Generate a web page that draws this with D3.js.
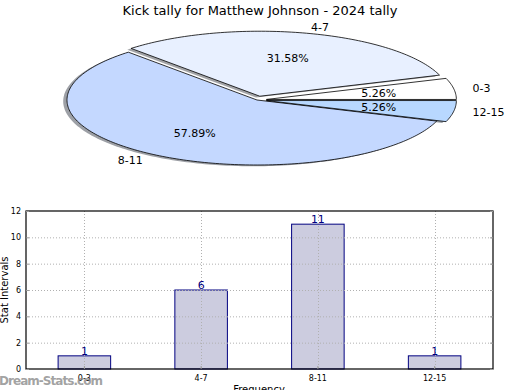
<!DOCTYPE html>
<html><head><meta charset="utf-8">
<script src="https://cdn.jsdelivr.net/npm/d3@7"></script>
<style>body{margin:0;background:#fff}svg{display:block;font-family:"DejaVu Sans",sans-serif}</style>
</head><body><svg id="c" width="520" height="390"></svg>
<script>
const title = "Kick tally for Matthew Johnson - 2024 tally";
const categories = ["0-3", "4-7", "8-11", "12-15"];
const counts = [1, 6, 11, 1];
const sliceColors = ["#ffffff", "#e8f0ff", "#c4d8ff", "#b8d8ff"];
const explode = [0.05, 0.06, 0, 0.05];
const yTicks = [0, 2, 4, 6, 8, 10, 12];
const yLabel = "Stat Intervals";
const xLabel = "Frequency";
const watermark = "Dream-Stats.com";

const svg = d3.select("#c");
svg.append("text").attr("x", 260).attr("y", 15).attr("text-anchor", "middle")
  .attr("font-size", 13).text(title);

// ---- Pie (elliptical, matplotlib-like: start at 0 rad, counter-clockwise) ----
const cx = 257, cy = 100, rx = 190, ry = 65;
const total = d3.sum(counts);
const pie = d3.pie().sort(null).value(d => d).startAngle(0).endAngle(2 * Math.PI);
const arcs = pie(counts);
function pt(a, r, ox, oy) { return [ox + rx * r * Math.cos(a), oy - ry * r * Math.sin(a)]; }
function slicePath(d, ox, oy) {
  const n = Math.max(4, Math.ceil((d.endAngle - d.startAngle) / 0.02));
  const angs = d3.range(n + 1).map(i => d.startAngle + (d.endAngle - d.startAngle) * i / n);
  const pts = [[ox, oy]].concat(angs.map(a => pt(a, 1, ox, oy)));
  return d3.line()(pts) + "Z";
}
const pg = svg.append("g");
const offs = arcs.map((d, i) => {
  const m = (d.startAngle + d.endAngle) / 2;
  return [cx + rx * explode[i] * Math.cos(m), cy - ry * explode[i] * Math.sin(m)];
});
// shadows (darkened face colour, half transparent)
arcs.forEach((d, i) => {
  const c = d3.rgb(sliceColors[i]);
  const sc = d3.rgb(c.r * 0.3, c.g * 0.3, c.b * 0.3);
  pg.append("path").attr("d", slicePath(d, offs[i][0] - 3.8, offs[i][1] + 1.3))
    .attr("fill", sc.formatHex()).attr("fill-opacity", 0.5).attr("stroke", "none");
});
arcs.forEach((d, i) => {
  pg.append("path").attr("d", slicePath(d, offs[i][0], offs[i][1]))
    .attr("fill", sliceColors[i]).attr("stroke", "#000").attr("stroke-width", 0.8)
    .attr("stroke-linejoin", "round");
});
arcs.forEach((d, i) => {
  const m = (d.startAngle + d.endAngle) / 2;
  const p = pt(m, 0.6, offs[i][0], offs[i][1]);
  const pctStr = (d.value / total * 100).toFixed(2) + "%";
  svg.append("text").attr("x", p[0]).attr("y", p[1] + 4).attr("text-anchor", "middle")
    .attr("font-size", 11).text(pctStr);
  const q = pt(m, 1.1, offs[i][0], offs[i][1]);
  svg.append("text").attr("x", q[0]).attr("y", q[1] + 4)
    .attr("text-anchor", Math.cos(m) > 0 ? "start" : "end")
    .attr("font-size", 11).text(categories[i]);
});

// ---- Bar chart ----
const L = 26, R = 493, T = 211, B = 369;
const x = d3.scaleBand().domain(categories).range([L, R]).paddingInner(0.55).paddingOuter(0.275);
const y = d3.scaleLinear().domain([0, 12]).range([B, T]);
const bg = svg.append("g");
bg.selectAll("rect.bar").data(categories).join("rect").attr("class", "bar")
  .attr("x", d => x(d)).attr("width", x.bandwidth())
  .attr("y", (d, i) => y(counts[i])).attr("height", (d, i) => B - y(counts[i]))
  .attr("fill", "#ccccdf").attr("stroke", "#000080").attr("stroke-width", 1);
// grid
const grid = bg.append("g").attr("stroke", "#b0b0b0").attr("stroke-dasharray", "1,2").attr("stroke-width", 1);
yTicks.forEach(t => { if (t > 0 && t < 12) grid.append("line").attr("x1", L).attr("x2", R).attr("y1", y(t) + 0.5).attr("y2", y(t) + 0.5); });
categories.forEach(c => { const xc = Math.round(x(c) + x.bandwidth() / 2) + 0.5; grid.append("line").attr("x1", xc).attr("x2", xc).attr("y1", T).attr("y2", B); });
// frame
bg.append("rect").attr("x", L).attr("y", T).attr("width", R - L).attr("height", B - T)
  .attr("fill", "none").attr("stroke", "#000").attr("stroke-width", 1.2);
// axes ticks with d3 axis
const yAxis = d3.axisLeft(y).tickValues(yTicks).tickSize(-3).tickPadding(5);
const ya = bg.append("g").attr("transform", `translate(${L},0)`).call(yAxis);
ya.select(".domain").remove();
ya.selectAll("line").attr("stroke", "#999");
ya.selectAll("text").attr("font-size", 8).attr("font-family", "DejaVu Sans, sans-serif").attr("fill", "#000");
const yAxisR = d3.axisRight(y).tickValues(yTicks).tickSize(-3).tickFormat("");
const yr = bg.append("g").attr("transform", `translate(${R},0)`).call(yAxisR);
yr.select(".domain").remove(); yr.selectAll("line").attr("stroke", "#999");
const xAxis = d3.axisBottom(x).tickSize(-3).tickPadding(6);
const xa = bg.append("g").attr("transform", `translate(0,${B})`).call(xAxis);
xa.select(".domain").remove();
xa.selectAll("line").attr("stroke", "#999");
xa.selectAll("text").attr("font-size", 8).attr("font-family", "DejaVu Sans, sans-serif").attr("fill", "#000");
// value labels
bg.selectAll("text.val").data(categories).join("text").attr("class", "val")
  .attr("x", d => x(d) + x.bandwidth() / 2).attr("y", (d, i) => y(counts[i]) - 1)
  .attr("text-anchor", "middle").attr("font-size", 11).attr("fill", "#000080")
  .text((d, i) => counts[i]);
svg.append("text").attr("transform", `translate(8,${(T + B) / 2}) rotate(-90)`)
  .attr("text-anchor", "middle").attr("font-size", 10).text(yLabel);
svg.append("text").attr("x", 259).attr("y", 393).attr("text-anchor", "middle")
  .attr("font-size", 10).text(xLabel);
svg.append("text").attr("x", -1).attr("y", 385).attr("font-size", 12).attr("font-weight", "bold")
  .attr("fill", "#8a8a8a").attr("fill-opacity", 0.8).attr("textLength", 104).text(watermark);
</script></body></html>
